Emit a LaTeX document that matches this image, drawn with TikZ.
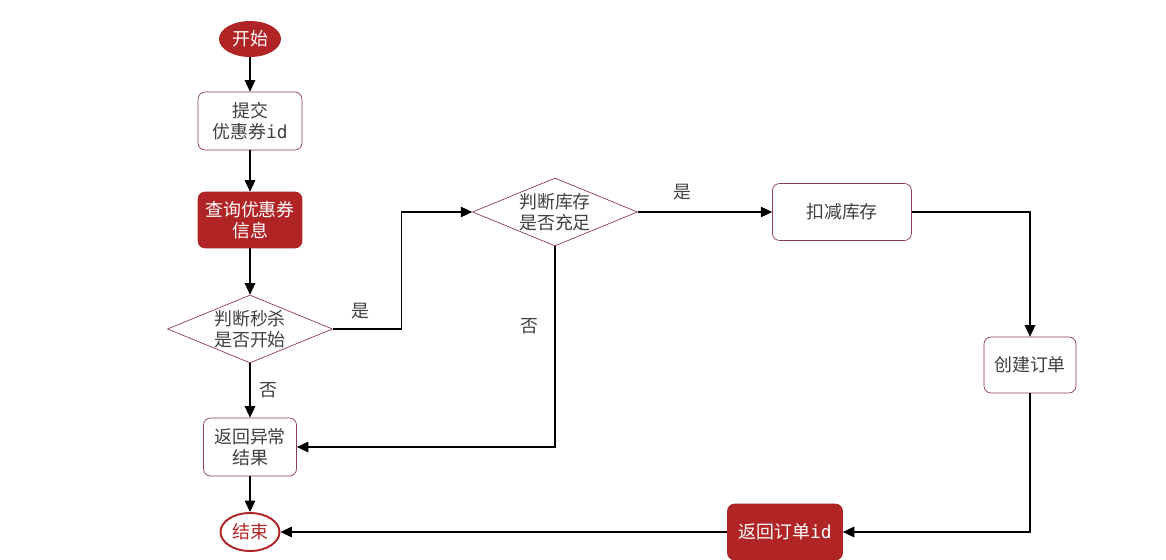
\documentclass[tikz,border=0pt]{standalone}
\usepackage{fontspec}
\newfontfamily\cjk{Noto Sans CJK SC}
\newfontfamily\idmono{DejaVu Sans Mono}
\usetikzlibrary{shapes.geometric,arrows.meta}
\definecolor{brick}{RGB}{176,36,38}
\definecolor{rim}{RGB}{140,62,78}
\definecolor{ink}{RGB}{64,64,64}

\begin{document}
\begin{tikzpicture}[x=0.02cm, y=-0.02cm,
    every node/.style={font=\cjk\fontsize{10.2}{12.2}\selectfont, text=ink, align=center},
    box/.style={draw=rim, fill=white, rounded corners=4pt, inner sep=1pt},
    redbox/.style={draw=brick, fill=brick, text=white, rounded corners=4pt, inner sep=1pt},
    decision/.style={draw=rim, diamond, shape aspect=2.4, inner sep=0pt, minimum width=3.3cm, minimum height=1.36cm},
    flow/.style={-{Triangle[length=6.5pt,width=6pt]}, line width=0.6pt}]
    \useasboundingbox (0,0) rectangle (1166,560);

    \node[ellipse, fill=brick, text=white, minimum width=1.24cm, minimum height=0.72cm, inner sep=0pt] (start) at (250,39) {开始};
    \node[box, minimum width=2.08cm, minimum height=1.16cm] (submit) at (250,121) {提交\\优惠券{\idmono id}};
    \node[redbox, minimum width=2.08cm, minimum height=1.12cm] (query) at (250,220) {查询优惠券\\信息};
    \node[decision] (judgetime) at (250,329) {判断秒杀\\是否开始};
    \node[box, minimum width=1.86cm, minimum height=1.16cm] (error) at (250,447) {返回异常\\结果};
    \node[ellipse, draw=brick, line width=1.1pt, text=brick, minimum width=1.18cm, minimum height=0.76cm, inner sep=0pt] (finish) at (250,532) {结束};
    \node[decision] (judgestock) at (555,212) {判断库存\\是否充足};
    \node[box, minimum width=2.78cm, minimum height=1.14cm] (reduce) at (842,212) {扣减库存};
    \node[box, minimum width=1.84cm, minimum height=1.12cm] (order) at (1030,365) {创建订单};
    \node[redbox, minimum width=2.3cm, minimum height=1.12cm] (orderid) at (785,532) {返回订单{\idmono id}};

    \draw[flow] (start) -- (submit);
    \draw[flow] (submit) -- (query);
    \draw[flow] (query) -- (judgetime);
    \draw[flow] (judgetime) -- node[right, xshift=2pt] {否} (error);
    \draw[flow] (judgetime.east) -- node[above, yshift=2pt, xshift=-4pt] {是} ++(69,0) |- (judgestock.west);
    \draw[flow] (judgestock.south) |- node[left, pos=0.2, xshift=-6pt] {否} (error.east);
    \draw[flow] (judgestock.east) -- node[above, pos=0.33, yshift=3pt] {是} (reduce.west);
    \draw[flow] (reduce.east) -| (order.north);
    \draw[flow] (order.south) |- (orderid.east);
    \draw[flow] (orderid.west) -- (finish.east);
    \draw[flow] (error) -- (finish);
\end{tikzpicture}
\end{document}
